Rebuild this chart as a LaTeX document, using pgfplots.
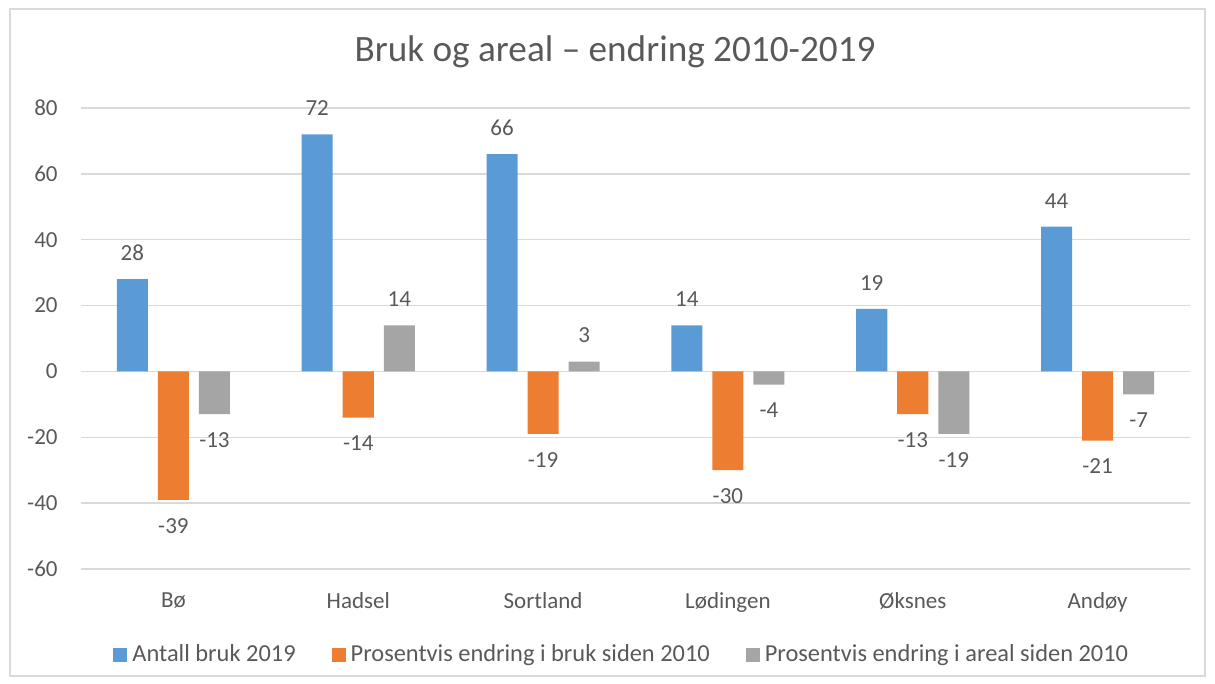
\documentclass[border=0pt]{standalone}
\usepackage{pgfplots}
\pgfplotsset{compat=1.18}
\usepackage{fontspec}
\setmainfont{Carlito}
\definecolor{blu}{HTML}{5B9BD5}
\definecolor{ora}{HTML}{ED7D31}
\definecolor{gra}{HTML}{A5A5A5}
\definecolor{txt}{HTML}{595959}
\definecolor{grd}{HTML}{D9D9D9}
\newcommand{\lbl}{\fontsize{11.5}{13.8}\selectfont}
\pgfplotsset{sq/.style={legend image code/.code={\fill[##1] (0pt,-3.5pt) rectangle (7pt,3.5pt);}}}
\begin{document}
\begin{tikzpicture}
\useasboundingbox (0,0) rectangle (607.5pt,-342pt);
\draw[grd, line width=0.75pt] (5pt,-4.5pt) rectangle (602.5pt,-338pt);
\node[text=txt, font=\fontsize{18.6}{22}\selectfont] at (307.5pt,-26pt) {Bruk og areal – endring 2010-2019};
\begin{axis}[
  at={(40.5pt,-284.5pt)}, anchor=south west,
  scale only axis, width=554.5pt, height=230.5pt,
  xmin=-0.5, xmax=5.5, ymin=-60, ymax=80,
  xtick={0,...,5},
  xticklabels={Bø,Hadsel,Sortland,Lødingen,Øksnes,Andøy},
  ytick={-60,-40,...,80},
  /pgf/number format/assume math mode=true,
  axis line style={draw=none},
  tick style={draw=none},
  major tick length=0pt,
  ymajorgrids,
  grid style={grd, line width=0.75pt},
  ticklabel style={font=\lbl, text=txt},
  yticklabel style={anchor=east, inner sep=0pt, xshift=-11.5pt},
  xticklabel style={anchor=north, inner sep=0pt, yshift=-11.5pt},
  ybar, bar width=0.168,
  nodes near coords,
  every node near coord/.append style={font=\lbl, text=txt, inner sep=9pt},
  legend columns=3,
  legend style={at={(0.0289,-0.1866)}, anchor=west, draw=none, fill=none,
    inner sep=0pt, font=\fontsize{12.2}{14.6}\selectfont, text=txt,
    nodes={inner sep=2.5pt},
    /tikz/every even column/.append style={column sep=15.5pt}},
]
\addplot[fill=blu, draw=none, bar shift=-0.222, sq] coordinates {(0,28) (1,72) (2,66) (3,14) (4,19) (5,44)};
\addlegendentry{Antall bruk 2019}
\addplot[fill=ora, draw=none, bar shift=0, sq] coordinates {(0,-39) (1,-14) (2,-19) (3,-30) (4,-13) (5,-21)};
\addlegendentry{Prosentvis endring i bruk siden 2010}
\addplot[fill=gra, draw=none, bar shift=0.222, sq] coordinates {(0,-13) (1,14) (2,3) (3,-4) (4,-19) (5,-7)};
\addlegendentry{Prosentvis endring i areal siden 2010}
\end{axis}
\end{tikzpicture}
\end{document}
